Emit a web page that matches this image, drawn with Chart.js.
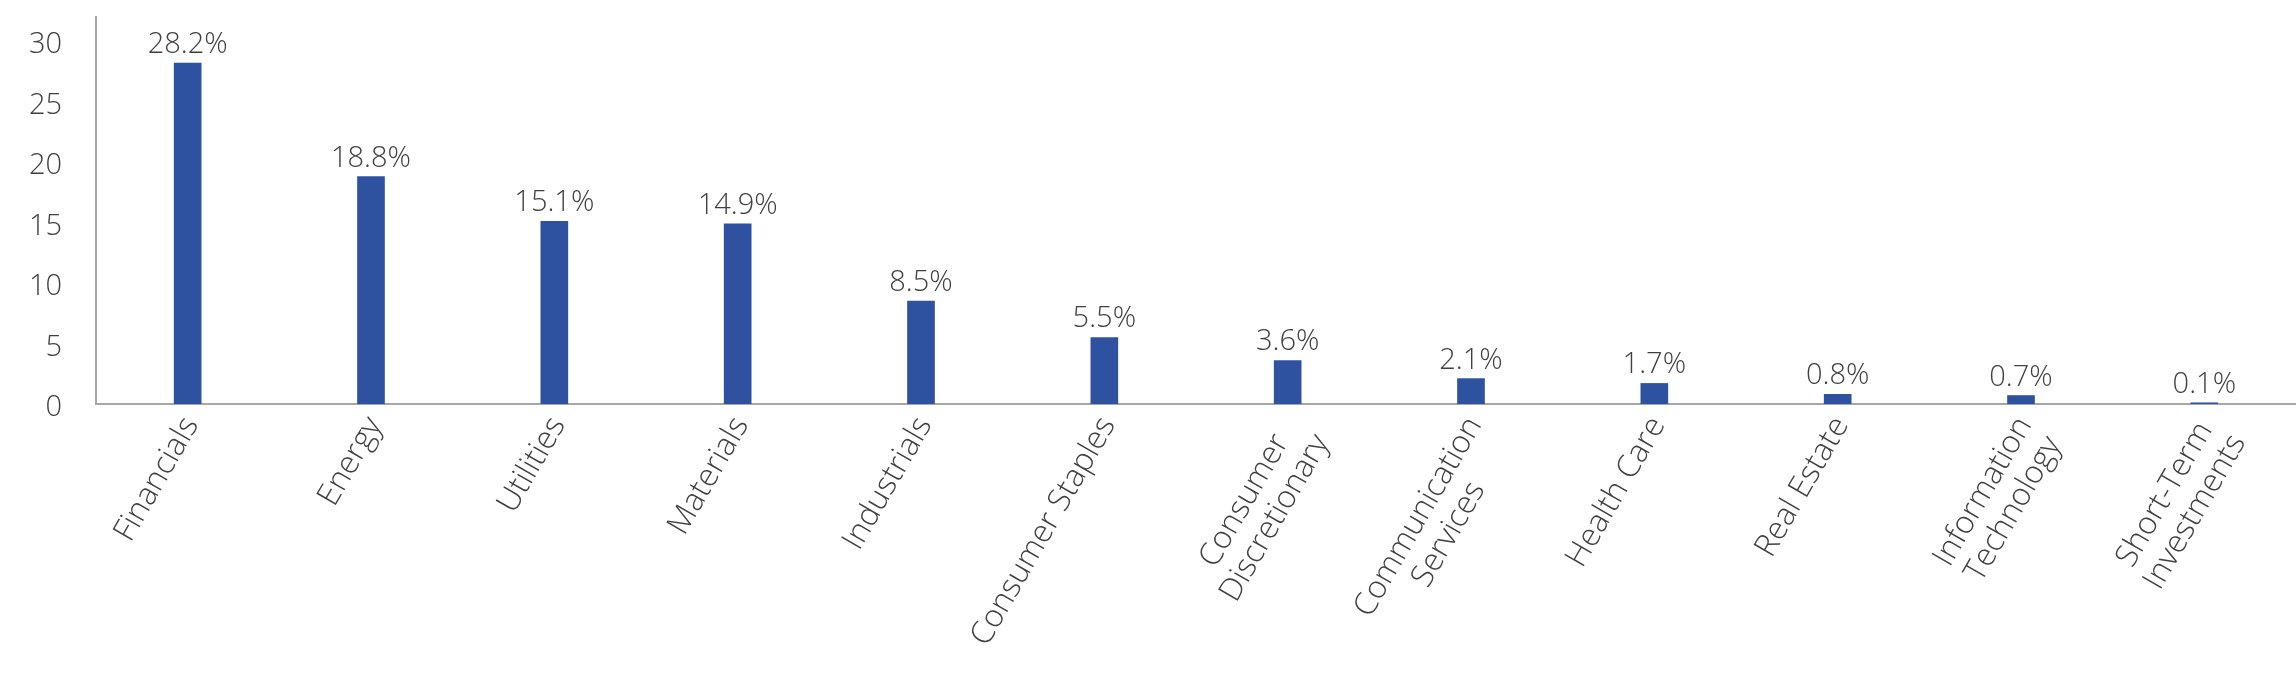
<!DOCTYPE html>
<html>
<head>
<meta charset="utf-8">
<script src="https://cdn.jsdelivr.net/npm/chart.js@4.4.1/dist/chart.umd.min.js"></script>
<style>
  html, body { margin: 0; padding: 0; background: #ffffff; }
  #wrap { width: 2296px; height: 692px; }
</style>
</head>
<body>
<div id="wrap"><canvas id="c" width="2296" height="692"></canvas></div>
<script>
const categories = [
  'Financials', 'Energy', 'Utilities', 'Materials', 'Industrials',
  'Consumer Staples', ['Consumer', 'Discretionary'], ['Communication', 'Services'],
  'Health Care', 'Real Estate', ['Information', 'Technology'], ['Short-Term', 'Investments']
];
const weights = [28.2, 18.8, 15.1, 14.9, 8.5, 5.5, 3.6, 2.1, 1.7, 0.8, 0.7, 0.1];
const yTicks = [0, 5, 10, 15, 20, 25, 30];

const FONT = '"Open Sans", Lato, sans-serif';
const TEXT = '#404040';
const AXIS = '#a6a6a6';
const ANGLE = 60;

const valueLabels = {
  id: 'valueLabels',
  afterDatasetsDraw(chart) {
    const ctx = chart.ctx;
    const meta = chart.getDatasetMeta(0);
    ctx.save();
    ctx.font = '300 29px ' + FONT;
    ctx.fillStyle = TEXT;
    ctx.textAlign = 'center';
    ctx.textBaseline = 'alphabetic';
    meta.data.forEach((bar, i) => {
      ctx.fillText(weights[i].toFixed(1) + '%', bar.x, bar.y - 10);
    });
    ctx.restore();
  }
};

const xLabels = {
  id: 'xLabels',
  afterDraw(chart) {
    const ctx = chart.ctx;
    const xs = chart.scales.x;
    const top = chart.chartArea.bottom + 8;
    const lineH = 35;
    ctx.save();
    ctx.font = '300 31.5px ' + FONT;
    ctx.fillStyle = TEXT;
    ctx.textAlign = 'center';
    ctx.textBaseline = 'top';
    categories.forEach((lab, i) => {
      const lines = Array.isArray(lab) ? lab : [lab];
      const w = Math.max(...lines.map(l => ctx.measureText(l).width));
      const x = xs.getPixelForValue(i) - 10;
      ctx.save();
      ctx.translate(x, top);
      ctx.rotate(-ANGLE * Math.PI / 180);
      lines.forEach((l, k) => {
        ctx.fillText(l, -w / 2, k * lineH);
      });
      ctx.restore();
    });
    ctx.restore();
  }
};

new Chart(document.getElementById('c'), {
  type: 'bar',
  data: {
    labels: categories,
    datasets: [{
      data: weights,
      backgroundColor: '#2E52A0',
      barThickness: 27
    }]
  },
  options: {
    responsive: false,
    devicePixelRatio: 1,
    animation: false,
    layout: { padding: { left: 0, top: 17, right: 0, bottom: 0 } },
    plugins: { legend: { display: false }, tooltip: { enabled: false } },
    scales: {
      x: {
        grid: { display: false, drawTicks: false },
        border: { display: true, color: AXIS, width: 2 },
        ticks: { display: false },
        afterFit(s) { s.height = 288; s.paddingLeft = 0; s.paddingRight = 0; }
      },
      y: {
        min: 0,
        max: 32,
        grid: { display: false, drawTicks: false },
        border: { display: true, color: AXIS, width: 2 },
        ticks: {
          stepSize: 5,
          padding: 34,
          labelOffset: 4,
          color: TEXT,
          font: { family: FONT, size: 29, weight: '300' }
        },
        afterBuildTicks(s) { s.ticks = yTicks.map(v => ({ value: v })); },
        afterFit(s) { s.width = 96; s.paddingTop = 0; s.paddingBottom = 0; }
      }
    }
  },
  plugins: [valueLabels, xLabels]
});
</script>
</body>
</html>
